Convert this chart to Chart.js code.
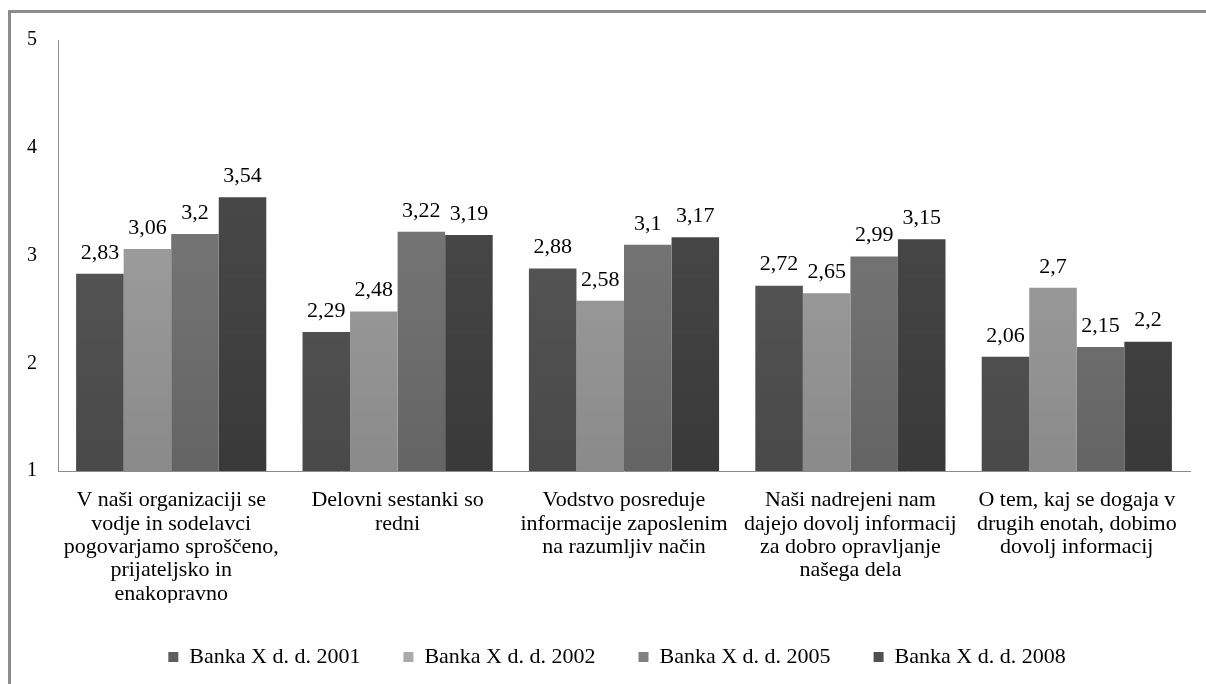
<!DOCTYPE html>
<html>
<head>
<meta charset="utf-8">
<script src="https://cdn.jsdelivr.net/npm/chart.js@4.4.0/dist/chart.umd.min.js"></script>
<style>
  html, body { margin: 0; padding: 0; background: #fff; }
  #wrap { position: relative; width: 1206px; height: 684px; }
  #frame { position: absolute; left: 8px; top: 10px; right: -4px; bottom: -4px; border-left: 3px solid #8c8c8c; border-top: 3px solid #8c8c8c; }
  canvas { position: absolute; left: 0; top: 0; }
</style>
</head>
<body>
<div id="wrap">
  <div id="frame"></div>
  <canvas id="chart" width="1206" height="684"></canvas>
</div>
<script>
const categories = [
    ['V naši organizaciji se', 'vodje in sodelavci', 'pogovarjamo sproščeno,', 'prijateljsko in', 'enakopravno'],
    ['Delovni sestanki so', 'redni'],
    ['Vodstvo posreduje', 'informacije zaposlenim', 'na razumljiv način'],
    ['Naši nadrejeni nam', 'dajejo dovolj informacij', 'za dobro opravljanje', 'našega dela'],
    ['O tem, kaj se dogaja v', 'drugih enotah, dobimo', 'dovolj informacij']
];
const seriesNames = ['Banka X d. d. 2001', 'Banka X d. d. 2002', 'Banka X d. d. 2005', 'Banka X d. d. 2008'];
const s2001 = [2.83, 2.29, 2.88, 2.72, 2.06];
const s2002 = [3.06, 2.48, 2.58, 2.65, 2.7];
const s2005 = [3.2, 3.22, 3.1, 2.99, 2.15];
const s2008 = [3.54, 3.19, 3.17, 3.15, 2.2];
const yTicks = [1, 2, 3, 4, 5];

// top / bottom shade for each series
const shades = [
    ['#5e5e5e', '#494949'],
    ['#aaaaaa', '#8a8a8a'],
    ['#818181', '#646464'],
    ['#505050', '#393939']
];

const serif = '"Liberation Serif", "Times New Roman", serif';

const gradientFor = function (i) {
    return function (ctx) {
        const area = ctx.chart.chartArea;
        if (!area) return shades[i][1];
        const g = ctx.chart.ctx.createLinearGradient(0, area.top, 0, area.bottom);
        g.addColorStop(0, shades[i][0]);
        g.addColorStop(1, shades[i][1]);
        return g;
    };
};

// value labels above bars, decimal comma
const valueLabels = {
    id: 'valueLabels',
    afterDatasetsDraw: function (chart) {
        const ctx = chart.ctx;
        ctx.save();
        ctx.font = '22px ' + serif;
        ctx.fillStyle = '#000';
        ctx.textAlign = 'center';
        ctx.textBaseline = 'bottom';
        chart.data.datasets.forEach(function (ds, i) {
            chart.getDatasetMeta(i).data.forEach(function (bar, j) {
                const txt = String(ds.data[j]).replace('.', ',');
                ctx.fillText(txt, bar.x, bar.y - 10);
            });
        });
        ctx.restore();
    }
};

// legend sits a bit right of centre in the original
const legendShift = {
    id: 'legendShift',
    afterLayout: function (chart) {
        chart.legend.left += 22;
        chart.legend.right += 22;
    }
};

const allSeries = [s2001, s2002, s2005, s2008];

new Chart(document.getElementById('chart'), {
    type: 'bar',
    data: {
        labels: categories,
        datasets: allSeries.map(function (vals, i) {
            return {
                label: seriesNames[i],
                data: vals,
                backgroundColor: gradientFor(i),
                borderWidth: 0,
                barPercentage: 1,
                categoryPercentage: 0.84
            };
        })
    },
    plugins: [valueLabels, legendShift],
    options: {
        responsive: false,
        animation: false,
        devicePixelRatio: 1,
        layout: { padding: { top: 40, right: 16, left: 0, bottom: 6 } },
        plugins: {
            tooltip: { enabled: false },
            legend: {
                position: 'bottom',
                labels: {
                    font: { family: serif, size: 22 },
                    color: '#000',
                    boxWidth: 10,
                    boxHeight: 10,
                    padding: 43,
                    generateLabels: function (chart) {
                        return seriesNames.map(function (n, i) {
                            return {
                                text: n,
                                fillStyle: shades[i][0],
                                strokeStyle: shades[i][0],
                                lineWidth: 0,
                                datasetIndex: i
                            };
                        });
                    }
                }
            }
        },
        scales: {
            x: {
                grid: { display: false, drawTicks: false },
                border: { display: true, color: '#8c8c8c', width: 1 },
                ticks: {
                    font: { family: serif, size: 22, lineHeight: 1.06 },
                    color: '#000',
                    maxRotation: 0,
                    autoSkip: false,
                    padding: 18
                },
                afterFit: function (scale) { scale.height = 132; }
            },
            y: {
                min: 1,
                max: 5,
                afterBuildTicks: function (scale) {
                    scale.ticks = yTicks.map(function (v) { return { value: v }; });
                },
                grid: { display: false, drawTicks: false },
                border: { display: true, color: '#8c8c8c', width: 1 },
                ticks: {
                    font: { family: serif, size: 20 },
                    color: '#000',
                    padding: 21
                },
                afterFit: function (scale) { scale.width = 58; }
            }
        }
    }
});
</script>
</body>
</html>
